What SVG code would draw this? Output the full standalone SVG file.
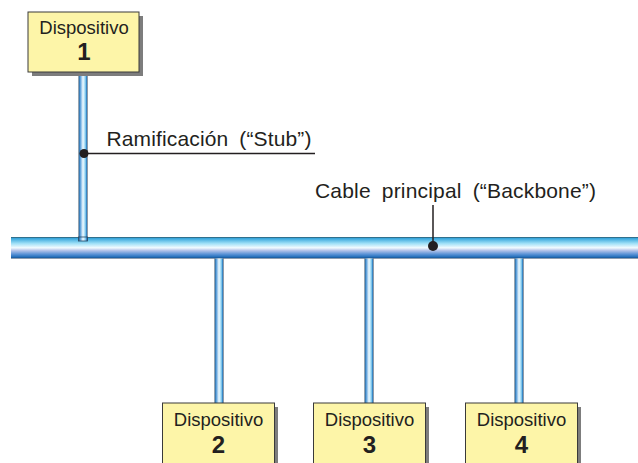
<svg xmlns="http://www.w3.org/2000/svg" width="638" height="463" viewBox="0 0 638 463">
<defs>
<linearGradient id="gh" x1="0" y1="0" x2="0" y2="1">
<stop offset="0" stop-color="#2c5566"/>
<stop offset="0.07" stop-color="#3aa7dc"/>
<stop offset="0.3" stop-color="#9fe0f7"/>
<stop offset="0.5" stop-color="#f2fbff"/>
<stop offset="0.62" stop-color="#b8c6ea"/>
<stop offset="0.8" stop-color="#5a92d6"/>
<stop offset="0.94" stop-color="#1f6cb8"/>
<stop offset="1" stop-color="#1c3c63"/>
</linearGradient>
<linearGradient id="gv" x1="0" y1="0" x2="1" y2="0">
<stop offset="0" stop-color="#2c4a63"/>
<stop offset="0.15" stop-color="#3f8fd4"/>
<stop offset="0.5" stop-color="#f2fbff"/>
<stop offset="0.75" stop-color="#8fd3f3"/>
<stop offset="0.88" stop-color="#3a8ed0"/>
<stop offset="1" stop-color="#1f3550"/>
</linearGradient>
</defs>
<style>
.box{fill:#fdf5a8;stroke:#3a3a3a;stroke-width:1}
.sh{fill:#7d7d7d}
.lbl{font-family:"Liberation Sans",Arial,sans-serif;font-size:21px;word-spacing:5px;fill:#231f20}
.dev{font-family:"Liberation Sans",Arial,sans-serif;font-size:18.5px;fill:#231f20;text-anchor:middle}
.num{font-family:"Liberation Sans",Arial,sans-serif;font-size:24px;font-weight:bold;fill:#231f20;text-anchor:middle}
.lead{stroke:#231f20;stroke-width:1.5;fill:none}
.dot{fill:#231f20}
.pipe{fill:url(#gv)}
</style>
<g id="connectors">
<rect x="11" y="237" width="627" height="21.5" fill="url(#gh)"/>
<rect class="pipe" x="78.5" y="72" width="9" height="169"/>
<rect x="78.5" y="237" width="9" height="4" fill="none" stroke="#2c4a63" stroke-width="0.8"/>
<rect class="pipe" x="214.5" y="258.5" width="9" height="145"/>
<rect class="pipe" x="364.5" y="258.5" width="9" height="145"/>
<rect class="pipe" x="514.5" y="258.5" width="9" height="145"/>
</g>
<g id="label-stub">
<line class="lead" x1="83" y1="153.5" x2="315" y2="153.5"/>
<circle class="dot" cx="84" cy="153.5" r="4.5"/>
<text class="lbl" x="106.5" y="145.7" textLength="205" lengthAdjust="spacing">Ramificación (“Stub”)</text>
</g>
<g id="label-backbone">
<line class="lead" x1="433" y1="205" x2="433" y2="246"/>
<circle class="dot" cx="433" cy="246" r="5"/>
<text class="lbl" x="315" y="198.3" textLength="281" lengthAdjust="spacing">Cable principal (“Backbone”)</text>
</g>
<g id="dev1">
<rect class="sh" x="32" y="16" width="111" height="60"/>
<rect class="box" x="28" y="12" width="111" height="60"/>
<text class="dev" x="84" y="34">Dispositivo</text>
<text class="num" x="84" y="60">1</text>
</g>
<g id="dev2">
<rect class="sh" x="166" y="407" width="112" height="70"/>
<rect class="box" x="162.5" y="403" width="112" height="70"/>
<text class="dev" x="218.5" y="426">Dispositivo</text>
<text class="num" x="218.5" y="453">2</text>
</g>
<g id="dev3">
<rect class="sh" x="317" y="407" width="112" height="70"/>
<rect class="box" x="313.5" y="403" width="112" height="70"/>
<text class="dev" x="369.5" y="426">Dispositivo</text>
<text class="num" x="369.5" y="453">3</text>
</g>
<g id="dev4">
<rect class="sh" x="469" y="407" width="112" height="70"/>
<rect class="box" x="465.5" y="403" width="112" height="70"/>
<text class="dev" x="521.5" y="426">Dispositivo</text>
<text class="num" x="521.5" y="453">4</text>
</g>
</svg>
